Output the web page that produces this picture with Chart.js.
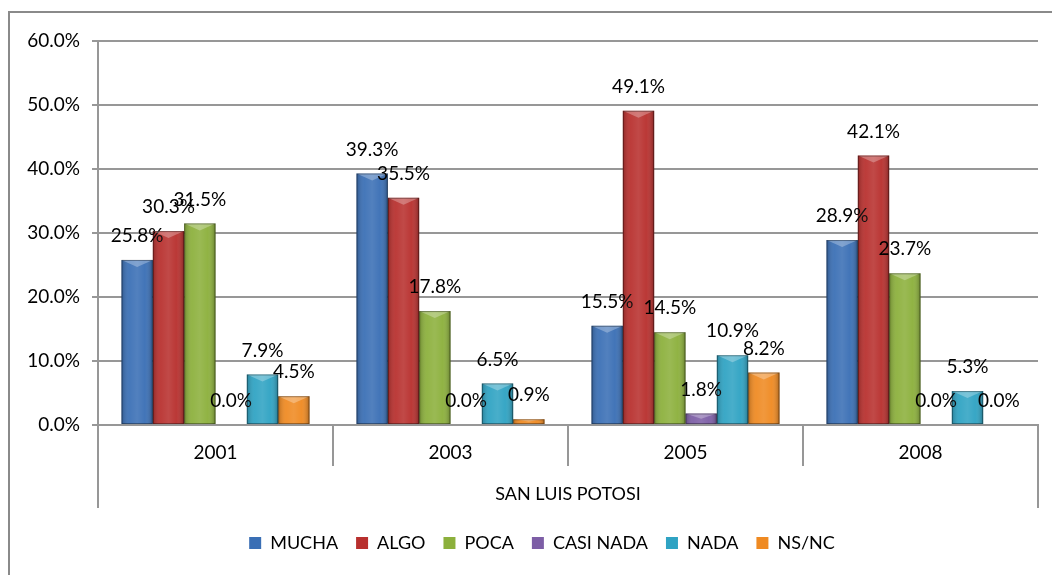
<!DOCTYPE html>
<html>
<head>
<meta charset="utf-8">
<script src="https://cdn.jsdelivr.net/npm/chart.js@4"></script>
<style>
    html, body { margin: 0; padding: 0; background: #fff; }
    #wrap { position: relative; width: 1052px; height: 575px; }
</style>
</head>
<body>
<div id="wrap"><canvas id="chartBar" width="1052" height="575"></canvas></div>
<script>
const years = ['2001', '2003', '2005', '2008']
const groupTitle = 'SAN LUIS POTOSI'
const yTicks = [0, 10, 20, 30, 40, 50, 60]

const mucha = [25.8, 39.3, 15.5, 28.9]
const algo = [30.3, 35.5, 49.1, 42.1]
const poca = [31.5, 17.8, 14.5, 23.7]
const casiNada = [0.0, 0.0, 1.8, 0.0]
const nada = [7.9, 6.5, 10.9, 5.3]
const nsnc = [4.5, 0.9, 8.2, 0.0]

const gridGray = '#979797'

// borde exterior del grafico + lineas extremas del eje de categorias
const framePlugin = {
    id: 'frame',
    afterLayout(chart) {
        // la leyenda del original esta centrada un poco a la derecha
        chart.legend.left += 23
        chart.legend.right += 23
    },
    beforeDraw(chart) {
        const c = chart.ctx
        c.save()
        c.strokeStyle = '#8a8a8a'
        c.lineWidth = 2
        c.beginPath()
        c.moveTo(9, 600)
        c.lineTo(9, 12)
        c.lineTo(1060, 12)
        c.stroke()
        c.restore()
    },
    afterDraw(chart) {
        const c = chart.ctx
        const area = chart.chartArea
        c.save()
        c.strokeStyle = gridGray
        c.lineWidth = 2
        c.beginPath()
        ;[area.left, area.right].forEach(x => {
            c.moveTo(x, area.bottom + 40)
            c.lineTo(x, area.bottom + 83)
        })
        c.stroke()
        c.restore()
    }
}

// efecto de bisel sobre cada barra y etiquetas de valor
const barLabelPlugin = {
    id: 'barLabels',
    afterDatasetsDraw(chart) {
        const c = chart.ctx
        chart.data.datasets.forEach((ds, i) => {
            const meta = chart.getDatasetMeta(i)
            meta.data.forEach((bar, j) => {
                const w = bar.width
                const left = bar.x - w / 2
                const h = bar.base - bar.y
                if (h > 0.5) {
                    c.save()
                    let g = c.createLinearGradient(left, 0, left + w, 0)
                    g.addColorStop(0, 'rgba(0,0,0,0.22)')
                    g.addColorStop(0.25, 'rgba(255,255,255,0.06)')
                    g.addColorStop(0.5, 'rgba(255,255,255,0.12)')
                    g.addColorStop(0.75, 'rgba(255,255,255,0.04)')
                    g.addColorStop(1, 'rgba(0,0,0,0.28)')
                    c.fillStyle = g
                    c.fillRect(left, bar.y, w, h)
                    // bisel superior
                    const b = Math.min(7, h / 2)
                    c.fillStyle = 'rgba(255,255,255,0.28)'
                    c.beginPath()
                    c.moveTo(left, bar.y)
                    c.lineTo(left + w, bar.y)
                    c.lineTo(left + w / 2, bar.y + b)
                    c.closePath()
                    c.fill()
                    c.strokeStyle = 'rgba(0,0,0,0.35)'
                    c.lineWidth = 1
                    c.strokeRect(left + 0.5, bar.y + 0.5, w - 1, h - 1)
                    c.restore()
                }
                c.save()
                c.font = '19px Lato'
                c.fillStyle = '#000'
                c.textAlign = 'center'
                c.textBaseline = 'middle'
                c.fillText(ds.data[j].toFixed(1) + '%', bar.x, bar.y - 24)
                c.restore()
            })
        })
    }
}

Chart.defaults.font.family = 'Lato'
Chart.defaults.color = '#000'

let ctx = document.getElementById('chartBar').getContext('2d')

let data = {
    labels: years,
    datasets: [
        { label: 'MUCHA', data: mucha, backgroundColor: '#3a6fb5' },
        { label: 'ALGO', data: algo, backgroundColor: '#b8302e' },
        { label: 'POCA', data: poca, backgroundColor: '#8cb03c' },
        { label: 'CASI NADA', data: casiNada, backgroundColor: '#7d5ea6' },
        { label: 'NADA', data: nada, backgroundColor: '#2fa3c3' },
        { label: 'NS/NC', data: nsnc, backgroundColor: '#ef8a22' }
    ]
}

let config = {
    type: 'bar',
    data: data,
    plugins: [framePlugin, barLabelPlugin],
    options: {
        responsive: false,
        animation: false,
        layout: { padding: { left: 0, top: 41, right: 14, bottom: 13 } },
        datasets: {
            bar: { categoryPercentage: 0.8, barPercentage: 1.0, borderWidth: 0 }
        },
        plugins: {
            legend: {
                position: 'bottom',
                labels: {
                    boxWidth: 12,
                    boxHeight: 12,
                    padding: 18,
                    font: { size: 18 },
                    color: '#000'
                }
            },
            tooltip: { enabled: false }
        },
        scales: {
            x: {
                offset: true,
                grid: {
                    offset: true,
                    drawOnChartArea: false,
                    drawTicks: true,
                    tickLength: 41,
                    color: gridGray,
                    lineWidth: 2
                },
                border: { color: gridGray, width: 2 },
                ticks: { padding: -25, font: { size: 19 }, color: '#000' },
                title: {
                    display: true,
                    text: groupTitle,
                    font: { size: 18 },
                    color: '#000',
                    padding: { top: 4, bottom: 11 }
                },
                afterFit: (scale) => { scale.height = 91 }
            },
            y: {
                min: yTicks[0],
                max: yTicks[yTicks.length - 1],
                afterBuildTicks: (scale) => { scale.ticks = yTicks.map(v => ({ value: v })) },
                grid: { color: gridGray, lineWidth: 2, tickLength: 6 },
                border: { color: gridGray, width: 2 },
                ticks: {
                    padding: 12,
                    font: { size: 19 },
                    color: '#000',
                    callback: (v) => v.toFixed(1) + '%'
                },
                afterFit: (scale) => { scale.width = 98 }
            }
        }
    }
}

let chart = new Chart(ctx, config)
</script>
</body>
</html>
